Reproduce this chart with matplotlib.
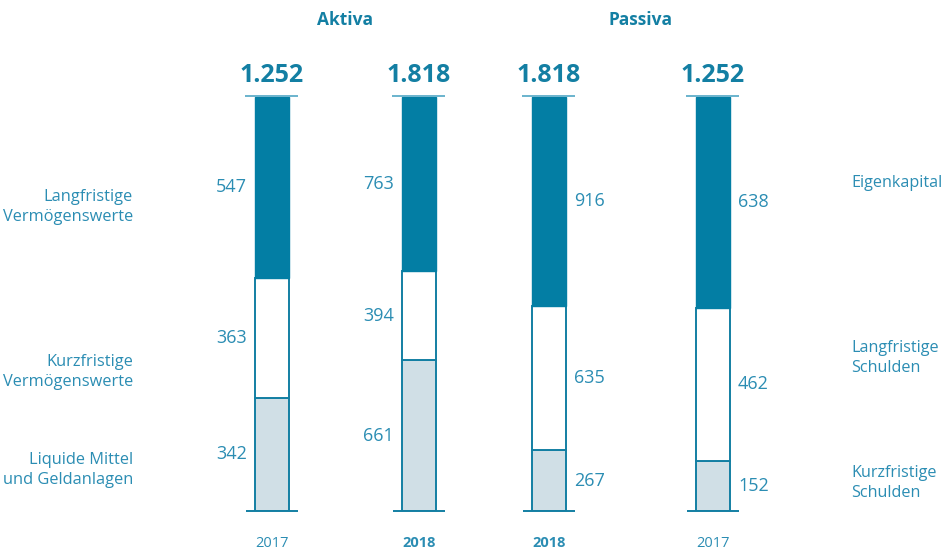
import matplotlib
matplotlib.use("Agg")
import matplotlib.pyplot as plt

plt.rcParams['font.family'] = ['Open Sans', 'DejaVu Sans']

# Data
columns = ["Aktiva 2017", "Aktiva 2018", "Passiva 2018", "Passiva 2017"]
years = ["2017", "2018", "2018", "2017"]
year_bold = [False, True, True, False]
totals = ["1.252", "1.818", "1.818", "1.252"]
bottom_vals = [342, 661, 267, 152]
middle_vals = [363, 394, 635, 462]
top_vals = [547, 763, 916, 638]
left_labels = ["Langfristige\nVermögenswerte", "Kurzfristige\nVermögenswerte", "Liquide Mittel\nund Geldanlagen"]
right_labels = ["Eigenkapital", "Langfristige\nSchulden", "Kurzfristige\nSchulden"]
group_titles = ["Aktiva", "Passiva"]

# Style
DARK = "#037ea4"
LIGHT = "#d0dfe6"
EDGE = "#137fa3"
TEXT = "#2b8db3"
TOPLINE = "#6ab3cd"

W, H = 942, 549
fig = plt.figure(figsize=(W / 100, H / 100), dpi=100)
y0_px, y1_px = 511, 97
ax = fig.add_axes([0, (H - y0_px) / H, 1, (y0_px - y1_px) / H])
ax.set_xlim(0, W)
ax.set_ylim(0, 100)
ax.axis("off")

xpos = [272, 419, 549, 713]
bw = 34
side = ["left", "left", "right", "right"]

for i in range(4):
    tot = bottom_vals[i] + middle_vals[i] + top_vals[i]
    b = bottom_vals[i] / tot * 100
    m = middle_vals[i] / tot * 100
    t = top_vals[i] / tot * 100
    x = xpos[i]
    ax.bar(x, b, width=bw, bottom=0, color=LIGHT, edgecolor=EDGE, linewidth=1.4, zorder=2)
    ax.bar(x, m, width=bw, bottom=b, color="white", edgecolor=EDGE, linewidth=1.4, zorder=2)
    ax.bar(x, t, width=bw, bottom=b + m, color=DARK, edgecolor=DARK, linewidth=1.0, zorder=3)
    ax.plot([x - 26, x + 26], [0, 0], color=EDGE, lw=1.4, zorder=4, solid_capstyle="butt", clip_on=False)
    ax.plot([x - 27, x + 26], [100.2, 100.2], color=TOPLINE, lw=1.4, zorder=4, solid_capstyle="butt", clip_on=False)
    mids = [b / 2, b + m / 2, b + m + t / 2]
    vals = [bottom_vals[i], middle_vals[i], top_vals[i]]
    for v, yy in zip(vals, mids):
        if side[i] == "left":
            ax.text(x - bw / 2 - 8, yy, str(v), ha="right", va="center", fontsize=13, color=TEXT)
        else:
            ax.text(x + bw / 2 + 8, yy, str(v), ha="left", va="center", fontsize=13, color=TEXT)
    ax.text(x, 105.2, totals[i], ha="center", va="center", fontsize=18, fontweight="bold", color="#137fa3")
    ax.text(x, -7.8, years[i], ha="center", va="center", fontsize=10.5,
            fontweight="bold" if year_bold[i] else "normal", color=TEXT, clip_on=False)

def py(pix):
    return (y0_px - pix) / (y0_px - y1_px) * 100

for lab, yp in zip(left_labels, [207, 372, 470]):
    ax.text(133, py(yp), lab, ha="right", va="center", fontsize=11.8, color=TEXT, linespacing=1.35)
for lab, yp in zip(right_labels, [183, 358, 483]):
    ax.text(851, py(yp), lab, ha="left", va="center", fontsize=11.6, color=TEXT, linespacing=1.35)

for lab, xp in zip(group_titles, [345, 640]):
    ax.text(xp, py(20), lab, ha="center", va="center", fontsize=12.5, fontweight="bold", color="#137fa3")

fig.savefig("out.png", dpi=100)
